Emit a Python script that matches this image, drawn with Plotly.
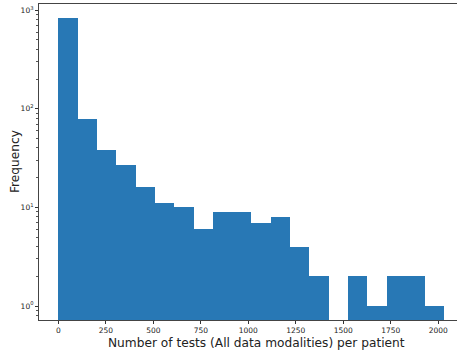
import numpy as np
import plotly.graph_objects as go

# Histogram counts per bin (20 equal bins)
counts = [840, 78, 38, 27, 16, 11, 10, 6, 9, 9, 7, 8, 4, 2, 0, 2, 1, 2, 2, 1]
data_min = 0
data_max = 2033
x_ticks = [0, 250, 500, 750, 1000, 1250, 1500, 1750, 2000]
y_ticks = [1, 10, 100, 1000]
y_ticklabels = ["10<sup>0</sup>", "10<sup>1</sup>", "10<sup>2</sup>", "10<sup>3</sup>"]

edges = np.linspace(data_min, data_max, len(counts) + 1)
centers = (edges[:-1] + edges[1:]) / 2
widths = np.diff(edges)
xs = [c for c, v in zip(centers, counts) if v > 0]
ws = [w for w, v in zip(widths, counts) if v > 0]
ys = [v for v in counts if v > 0]

fig = go.Figure(go.Bar(
    x=xs, y=ys, width=ws,
    marker=dict(color="#2878b5", line=dict(width=0)),
))

minor_vals = [m * 10 ** e for e in range(-1, 4) for m in range(2, 10)]

fig.update_layout(
    width=457, height=351,
    margin=dict(l=39, r=0, t=4, b=31),
    paper_bgcolor="white", plot_bgcolor="white",
    showlegend=False,
    font=dict(family="DejaVu Sans", color="#222"),
    bargap=0,
    xaxis=dict(
        range=[-102, 2099],
        tickvals=x_ticks,
        ticks="outside", ticklen=3, tickwidth=0.8, tickcolor="#333",
        tickfont=dict(size=7.5),
        showline=True, linecolor="#444", linewidth=1, mirror=True,
        showgrid=False, zeroline=False,
    ),
    yaxis=dict(
        type="log",
        range=[-0.142, 3.062],
        tickvals=y_ticks, ticktext=y_ticklabels,
        ticks="outside", ticklen=3, tickwidth=0.8, tickcolor="#333",
        tickfont=dict(size=7.5),
        minor=dict(tickvals=minor_vals, ticks="outside", ticklen=2,
                   tickcolor="#555", tickwidth=0.6, showgrid=False),
        showline=True, linecolor="#444", linewidth=1,
        showgrid=False, zeroline=False,
    ),
    annotations=[
        dict(text="Number of tests (All data modalities) per patient",
             xref="paper", yref="paper", x=0.52, y=0, yshift=-23,
             xanchor="center", yanchor="middle", showarrow=False,
             font=dict(size=12.2, color="#222")),
        dict(text="Frequency", xref="paper", yref="paper",
             x=0, xshift=-24, y=0.5, textangle=-90,
             xanchor="center", yanchor="middle", showarrow=False,
             font=dict(size=12.2, color="#222")),
    ],
)

fig.write_html("out.html")
